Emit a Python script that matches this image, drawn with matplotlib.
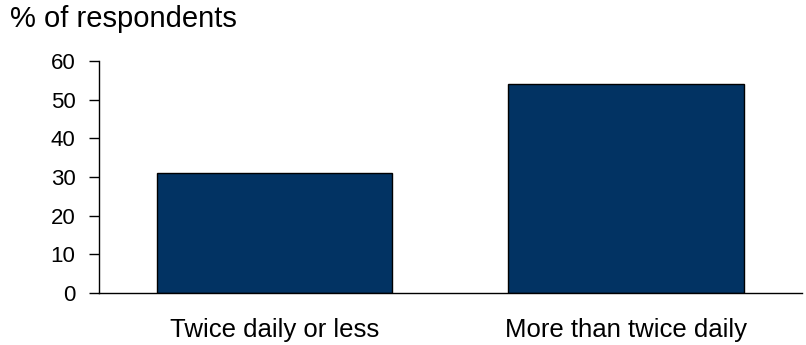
import matplotlib
matplotlib.use("Agg")
import matplotlib.pyplot as plt

# data
categories = ["Twice daily or less", "More than twice daily"]
values = [31, 54]
yticks = [0, 10, 20, 30, 40, 50, 60]

plt.rcParams["font.family"] = ["Liberation Sans", "DejaVu Sans"]

fig = plt.figure(figsize=(8.06, 3.45), dpi=100)
ax = fig.add_axes([0.1228, 0.1507, 0.8722, 0.6725])

x = range(len(categories))
ax.bar(x, values, width=0.67, color="#023363", edgecolor="black", linewidth=1.0)

ax.set_xlim(-0.5, 1.5)
ax.set_ylim(0, 60)
ax.set_yticks(yticks)
ax.set_xticks(list(x))
ax.set_xticklabels(categories, fontsize=18.5)
ax.tick_params(axis="x", length=0, pad=18)
ax.tick_params(axis="y", direction="out", length=7, width=1, labelsize=16, pad=10)

for s in ["top", "right"]:
    ax.spines[s].set_visible(False)
ax.spines["left"].set_linewidth(1)
ax.spines["bottom"].set_linewidth(1)

fig.text(0.012, 0.945, "% of respondents", fontsize=21, va="center", ha="left")

fig.savefig("out.png", dpi=100)
